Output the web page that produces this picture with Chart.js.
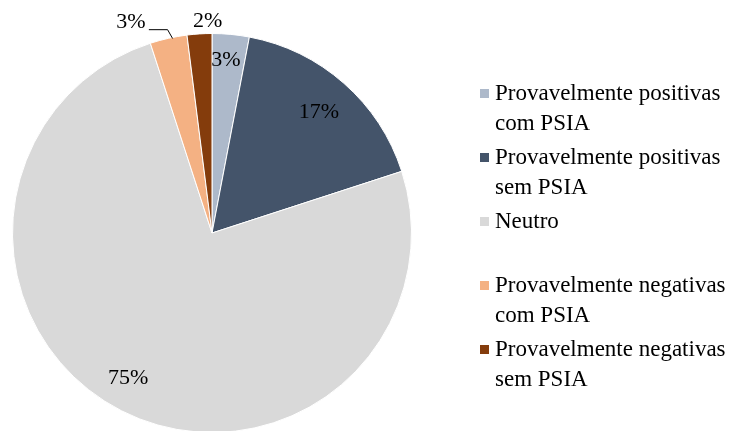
<!DOCTYPE html>
<html>
<head>
<meta charset="utf-8">
<script src="https://cdn.jsdelivr.net/npm/chart.js@4"></script>
<style>
  html, body { margin: 0; padding: 0; background: #fff; overflow: hidden; }
  #wrap { position: relative; width: 732px; height: 431px; overflow: hidden; }
  #pie { position: absolute; left: 0; top: 0; }
  #legend { position: absolute; left: 480px; top: 0; font-family: "Liberation Serif", "Times New Roman", serif; font-size: 23px; color: #000; }
  .item { position: absolute; left: 0; width: 250px; line-height: 30px; padding-left: 15px; white-space: nowrap; }
  .box { position: absolute; left: 0; top: 11px; width: 9px; height: 9px; }
</style>
</head>
<body>
<div id="wrap">
  <canvas id="pie" width="732" height="440"></canvas>
  <div id="legend"></div>
</div>
<script>
const categories = [
    ['Provavelmente positivas', 'com PSIA'],
    ['Provavelmente positivas', 'sem PSIA'],
    ['Neutro'],
    ['Provavelmente negativas', 'com PSIA'],
    ['Provavelmente negativas', 'sem PSIA']
];
const shares = [3, 17, 75, 3, 2];
const colors = ['#ADB9CA', '#44546A', '#D9D9D9', '#F4B183', '#843C0C'];

// where each percentage label sits (fraction of radius, angle shift in degrees)
const labelRadius = [0.87, 0.81, 0.84, 1.13, 1.06];
const labelShift = [-0.8, 0, 3, -8.5, 2.4];

const pctLabels = {
    id: 'pctLabels',
    afterDatasetsDraw(chart) {
        const ctx = chart.ctx;
        const meta = chart.getDatasetMeta(0);
        const total = shares.reduce((a, b) => a + b, 0);
        ctx.save();
        ctx.font = '22px "Liberation Serif", "Times New Roman", serif';
        ctx.fillStyle = '#000';
        ctx.textAlign = 'center';
        ctx.textBaseline = 'middle';
        meta.data.forEach((arc, i) => {
            const p = arc.getProps(['x', 'y', 'startAngle', 'endAngle', 'outerRadius'], true);
            const mid = (p.startAngle + p.endAngle) / 2 + labelShift[i] * Math.PI / 180;
            const r = p.outerRadius * labelRadius[i];
            const lx = p.x + Math.cos(mid) * r;
            const ly = p.y + Math.sin(mid) * r;
            ctx.fillText(Math.round(shares[i] / total * 100) + '%', lx, ly);

            // leader line for the orange slice label
            if (i === 3) {
                const m = (p.startAngle + p.endAngle) / 2 + 0.02;
                const ex = p.x + Math.cos(m) * (p.outerRadius - 1);
                const ey = p.y + Math.sin(m) * (p.outerRadius - 1);
                ctx.strokeStyle = '#000';
                ctx.lineWidth = 1;
                ctx.beginPath();
                ctx.moveTo(lx + 18, ly + 7);
                ctx.lineTo(ex - 5, ly + 7);
                ctx.lineTo(ex, ey);
                ctx.stroke();
            }
        });
        ctx.restore();
    }
};

function buildLegend() {
    const legend = document.getElementById('legend');
    const tops = [78, 142, 206, 270, 334];
    categories.forEach((lines, i) => {
        const item = document.createElement('div');
        item.className = 'item';
        item.style.top = tops[i] + 'px';
        const box = document.createElement('span');
        box.className = 'box';
        box.style.background = colors[i];
        item.appendChild(box);
        item.appendChild(document.createTextNode(lines[0]));
        if (lines[1]) {
            item.appendChild(document.createElement('br'));
            item.appendChild(document.createTextNode(lines[1]));
        }
        legend.appendChild(item);
    });
}

document.addEventListener('DOMContentLoaded', function() {
    const ctx = document.getElementById('pie').getContext('2d');
    new Chart(ctx, {
        type: 'pie',
        data: {
            labels: categories.map(c => c.join(' ')),
            datasets: [{
                data: shares,
                backgroundColor: colors,
                borderColor: '#ffffff',
                borderWidth: 1
            }]
        },
        options: {
            responsive: false,
            animation: false,
            layout: { padding: { left: 12, top: 33, right: 320, bottom: 7 } },
            plugins: {
                legend: { display: false },
                tooltip: { enabled: false }
            }
        },
        plugins: [pctLabels]
    });
    buildLegend();
});
</script>
</body>
</html>
